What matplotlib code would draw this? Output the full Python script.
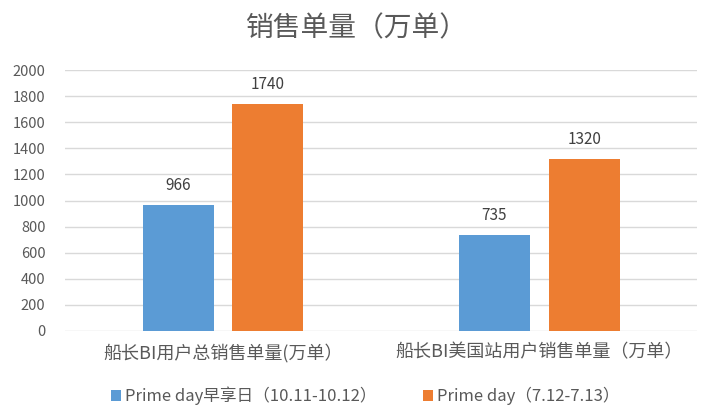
import matplotlib
matplotlib.use("Agg")
import matplotlib.pyplot as plt
import numpy as np

plt.rcParams['font.family'] = ['Noto Sans CJK SC', 'DejaVu Sans']

categories = ["船长BI用户总销售单量(万单）", "船长BI美国站用户销售单量（万单）"]
series_names = ["Prime day早享日（10.11-10.12）", "Prime day（7.12-7.13）"]
early_values = [966, 735]
prime_values = [1740, 1320]
yticks = [0, 200, 400, 600, 800, 1000, 1200, 1400, 1600, 1800, 2000]
title = "销售单量（万单）"

colors = ["#5B9BD5", "#ED7D31"]
text_color = "#595959"

fig = plt.figure(figsize=(7.13, 4.2), dpi=100)
ax = fig.add_axes([0.091, 0.212, 0.887, 0.621])

x = np.arange(len(categories))
w = 0.225
off = 0.142
b1 = ax.bar(x - off, early_values, w, color=colors[0], label=series_names[0], zorder=3)
b2 = ax.bar(x + off, prime_values, w, color=colors[1], label=series_names[1], zorder=3)

for bars, vals in ((b1, early_values), (b2, prime_values)):
    for r, v in zip(bars, vals):
        ax.annotate(str(v), (r.get_x() + r.get_width() / 2, v), xytext=(0, 8),
                    textcoords="offset points", ha="center", va="bottom",
                    fontsize=11, color="#404040")

ax.set_xlim(-0.5, 1.5)
ax.set_ylim(0, 2000)
ax.set_yticks(yticks)
ax.set_yticklabels([str(t) for t in yticks], fontsize=10.5, color=text_color)
ax.set_xticks(x)
ax.set_xticklabels(categories, fontsize=13, color=text_color)
ax.tick_params(axis='both', length=0)
ax.tick_params(axis='x', pad=9)
ax.tick_params(axis='y', pad=14)
ax.grid(axis='y', color="#D9D9D9", linewidth=1, zorder=0)
for s in ax.spines.values():
    s.set_visible(False)

fig.text(0.5, 0.933, title, ha="center", va="center", fontsize=20, color=text_color)

fig.legend(loc="center", bbox_to_anchor=(0.512, 0.057), ncol=2, frameon=False,
           fontsize=12, handlelength=0.6, handleheight=0.6, handletextpad=0.25,
           columnspacing=2.8, labelcolor=text_color)

fig.savefig("out.png", dpi=100)
